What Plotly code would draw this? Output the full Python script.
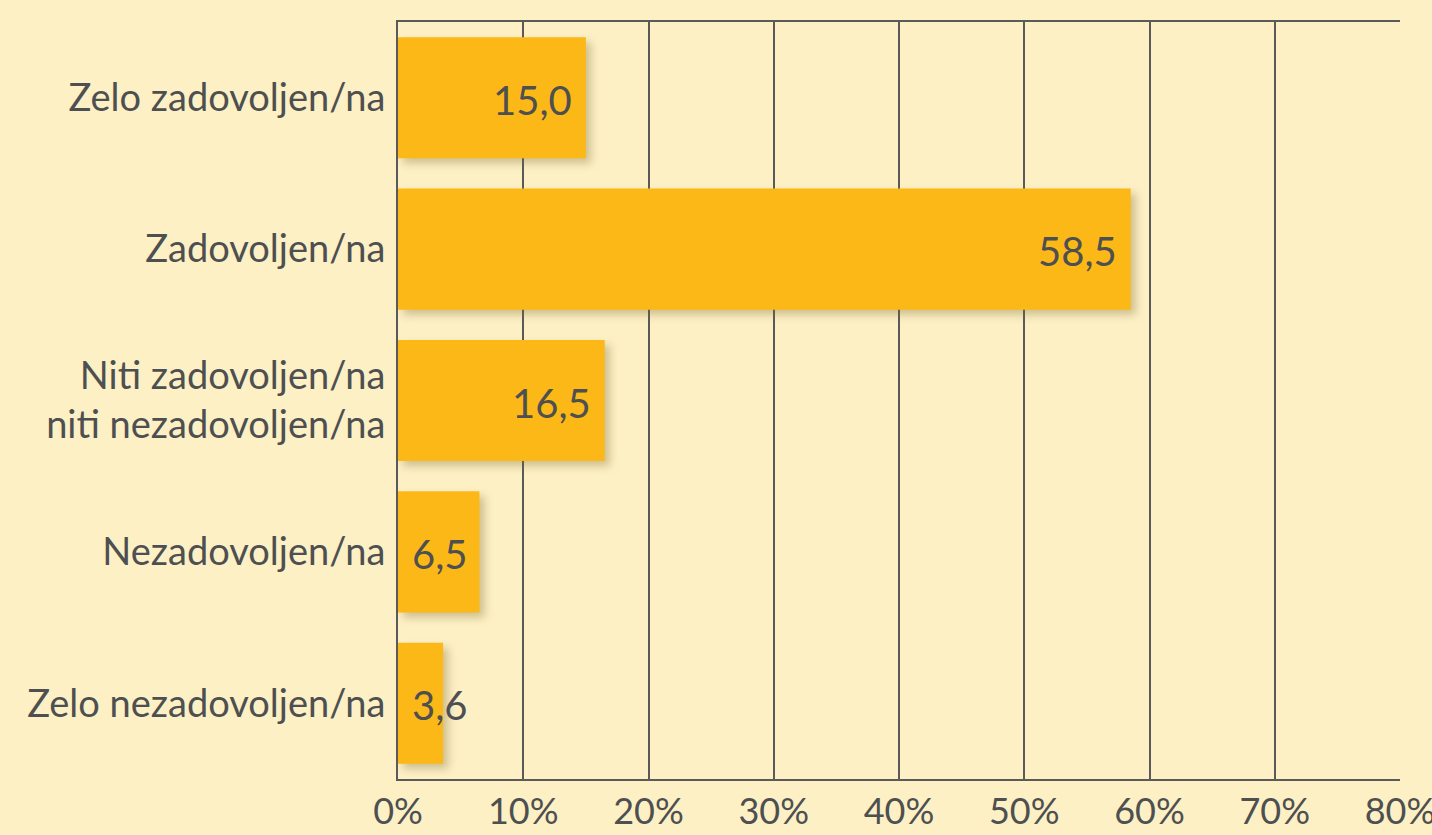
import plotly.graph_objects as go

categories = [
    "Zelo zadovoljen/na",
    "Zadovoljen/na",
    "Niti zadovoljen/na<br>niti nezadovoljen/na",
    "Nezadovoljen/na",
    "Zelo nezadovoljen/na",
]
values = [15.0, 58.5, 16.5, 6.5, 3.6]
value_labels = ["15,0", "58,5", "16,5", "6,5", "3,6"]
tick_vals = [0, 10, 20, 30, 40, 50, 60, 70, 80]
tick_text = ["0%", "10%", "20%", "30%", "40%", "50%", "60%", "70%", "80%"]

BG = "#FDF0C5"
BAR = "#FCB817"
INK = "#4D4F50"
GRID = "#5A5A5A"
FONT = "Lato, 'Open Sans', sans-serif"

fig = go.Figure(
    go.Bar(
        x=values,
        y=categories,
        orientation="h",
        marker=dict(color=BAR, line=dict(width=0)),
        hoverinfo="skip",
    )
)

# value labels: right-aligned inside the bar end; short bars start near the base
for cat, v, lab in zip(categories, values, value_labels):
    small = v < 10
    fig.add_annotation(
        x=0 if small else v,
        y=cat,
        text=lab,
        showarrow=False,
        xanchor="left" if small else "right",
        xshift=12 if small else -12,
        yshift=-2,
        font=dict(family=FONT, size=40, color=INK),
    )

fig.update_layout(
    width=1432,
    height=835,
    paper_bgcolor=BG,
    plot_bgcolor=BG,
    margin=dict(l=398, r=32, t=22, b=56, autoexpand=False),
    bargap=0.2,
    showlegend=False,
    font=dict(family=FONT, size=40, color=INK),
)
fig.update_xaxes(
    range=[0, 80],
    tickvals=tick_vals,
    ticktext=tick_text,
    showgrid=True,
    gridcolor=GRID,
    gridwidth=2,
    showline=True,
    linecolor=GRID,
    linewidth=2,
    mirror=True,
    zeroline=False,
    ticks="",
    automargin=False,
    ticklabeloverflow="allow",
    ticklabelstandoff=0,
    tickfont=dict(family=FONT, size=36, color=INK),
    fixedrange=True,
)
fig.update_yaxes(
    categoryorder="array",
    categoryarray=categories[::-1],
    showgrid=False,
    showline=True,
    linecolor=GRID,
    linewidth=2,
    ticks="",
    automargin=False,
    ticklabelstandoff=3,
    tickfont=dict(family=FONT, size=38, color=INK),
    fixedrange=True,
)

post = (
    "document.body.style.margin='0';"
    "document.body.style.background='" + BG + "';"
    "document.querySelectorAll('.barlayer .point path').forEach(function(p){"
    "p.style.filter='drop-shadow(5px 5px 4px rgba(120,100,40,0.35))';});"
)

fig.write_html(
    "out.html",
    config={"displayModeBar": False},
    post_script=post,
)
